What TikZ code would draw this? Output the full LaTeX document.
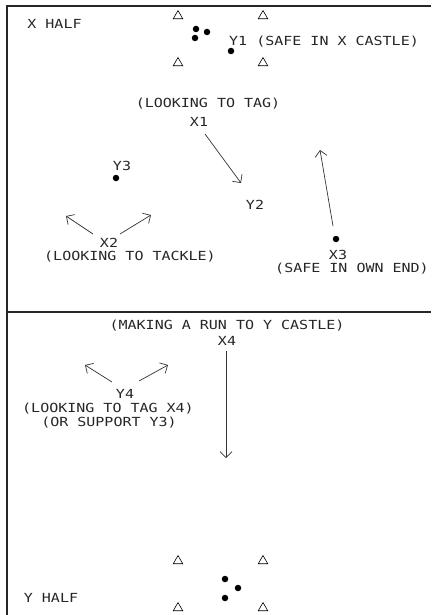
\documentclass[tikz,border=0pt]{standalone}
\usepackage{fontspec}
\usetikzlibrary{arrows.meta,shapes.geometric}
\newfontfamily\cadfont[FakeStretch=1.2]{DejaVu Sans Mono}
\tikzset{
  lbl/.style={font=\cadfont\fontsize{12.5}{13}\selectfont, text=black!85, inner sep=0pt, text height=9pt, text depth=0pt},
  cone/.style={regular polygon, regular polygon sides=3, draw, line width=0.6pt, minimum size=11pt, inner sep=0pt},
  player/.style={circle, fill, inner sep=0pt, minimum size=6.5pt},
  run/.style={line width=0.7pt, draw=black!80, -{Straight Barb[length=6pt,width=12pt]}},
  border/.style={line width=1.3pt, draw=black!85}
}
\begin{document}
\begin{tikzpicture}[x=1pt,y=-1pt]
\useasboundingbox (0,0) rectangle (431,615);
% field border
\coordinate (tl) at (7,6);
\coordinate (tr) at (431,6);
\coordinate (bl) at (7,615);
\coordinate (ml) at (7,312);
\coordinate (mr) at (431,312);
\draw[border] (tr) -- (tl) -- (bl);
\draw[border] (ml) -- (mr);

% X half
\node[lbl] (xhalf) at (54.5,24) {X HALF};
\node[cone] (c1) at (178,16) {};
\node[cone] (c2) at (263,16) {};
\node[cone] (c3) at (178,63) {};
\node[cone] (c4) at (263,63) {};
\node[player] (d1) at (196,29) {};
\node[player] (d2) at (207,32) {};
\node[player] (d3) at (195,38) {};
\node[player] (y1dot) at (231,51) {};
\node[lbl, anchor=west] (y1) at (229,41) {Y1 (SAFE IN X CASTLE)};

\node[lbl] (tagnote) at (208,103) {(LOOKING TO TAG)};
\node[lbl] (x1) at (199,122) {X1};
\coordinate (x1s) at (205,134);
\coordinate (x1e) at (241,183);
\draw[run] (x1s) -- (x1e);

\node[lbl] (y3) at (122,166) {Y3};
\node[player] (y3dot) at (116,178) {};
\node[lbl] (y2) at (255,205) {Y2};

\node[lbl] (x2) at (109,243) {X2};
\node[lbl] (tacklenote) at (130,256) {(LOOKING TO TACKLE)};
\coordinate (x2ls) at (93,234);
\coordinate (x2le) at (66,216);
\coordinate (x2rs) at (120,234);
\coordinate (x2re) at (151,215);
\draw[run] (x2ls) -- (x2le);
\draw[run] (x2rs) -- (x2re);

\node[player] (x3dot) at (336,239) {};
\node[lbl] (x3) at (338,255) {X3};
\node[lbl] (safenote) at (352,268) {(SAFE IN OWN END)};
\coordinate (x3s) at (333,226);
\coordinate (x3e) at (320,150);
\draw[run] (x3s) -- (x3e);

% Y half
\node[lbl] (runnote) at (227,325) {(MAKING A RUN TO Y CASTLE)};
\node[lbl] (x4) at (227,341) {X4};
\coordinate (x4s) at (226,351);
\coordinate (x4e) at (226,458);
\draw[run] (x4s) -- (x4e);

\node[lbl] (y4) at (125,394) {Y4};
\node[lbl] (y4note1) at (108,408) {(LOOKING TO TAG X4)};
\node[lbl] (y4note2) at (109,422) {(OR SUPPORT Y3)};
\coordinate (y4ls) at (112,382);
\coordinate (y4le) at (85,365);
\coordinate (y4rs) at (139,381);
\coordinate (y4re) at (168,365);
\draw[run] (y4ls) -- (y4le);
\draw[run] (y4rs) -- (y4re);

\node[cone] (c5) at (178,561) {};
\node[cone] (c6) at (263,561) {};
\node[cone] (c7) at (178,608) {};
\node[cone] (c8) at (263,608) {};
\node[player] (d4) at (225,579) {};
\node[player] (d5) at (238,588) {};
\node[player] (d6) at (225,598) {};
\node[lbl] (yhalf) at (51,598) {Y HALF};
\end{tikzpicture}
\end{document}
